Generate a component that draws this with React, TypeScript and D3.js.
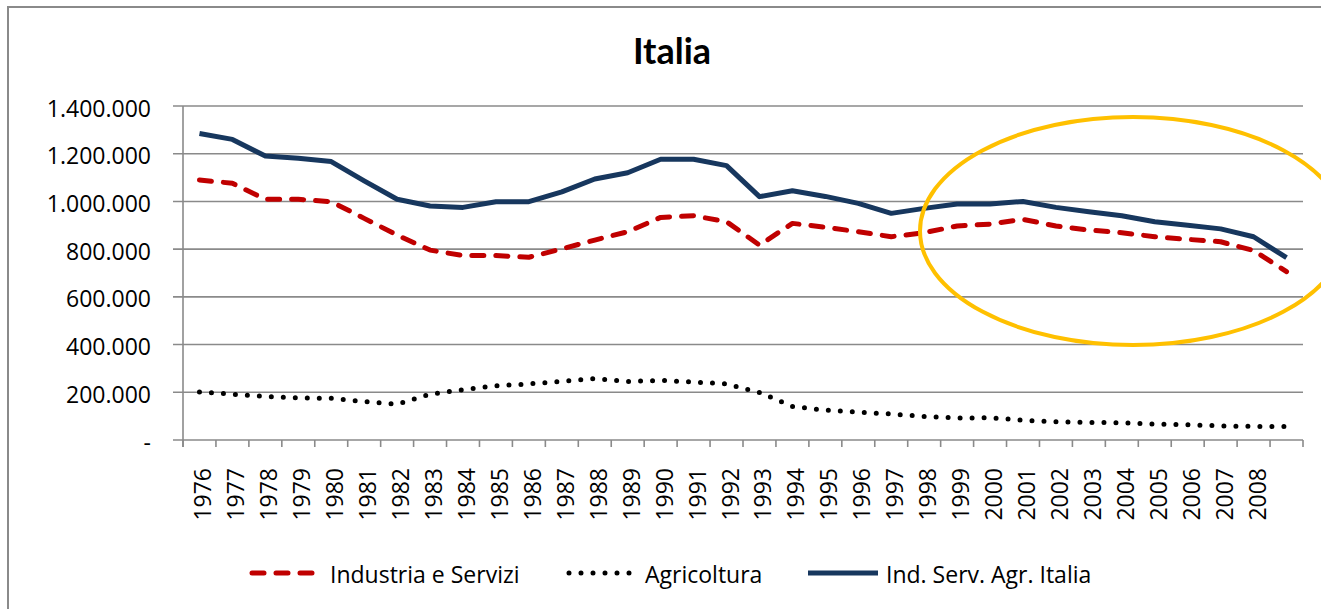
import React, { useEffect, useRef } from 'react';
import * as d3 from 'd3';

// categories (last one has no label in the original)
const years = [
  '1976', '1977', '1978', '1979', '1980', '1981', '1982', '1983', '1984', '1985', '1986',
  '1987', '1988', '1989', '1990', '1991', '1992', '1993', '1994', '1995', '1996', '1997',
  '1998', '1999', '2000', '2001', '2002', '2003', '2004', '2005', '2006', '2007', '2008', '',
];

const industriaServizi = [
  1090000, 1076000, 1009000, 1009000, 999000, 929000, 859000, 796000, 773000, 773000,
  766000, 801000, 838000, 873000, 933000, 940000, 915000, 817000, 908000, 892000,
  873000, 852000, 869000, 897000, 905000, 925000, 897000, 880000, 869000, 852000,
  841000, 831000, 794000, 706000,
];

const agricoltura = [
  201000, 192000, 183000, 176000, 175000, 161000, 150000, 192000, 211000, 227000,
  235000, 246000, 258000, 245000, 250000, 243000, 235000, 199000, 141000, 125000,
  117000, 109000, 99000, 92000, 93000, 83000, 76000, 74000, 72000, 67000,
  64000, 59000, 57000, 56000,
];

const totaleItalia = [
  1285000, 1260000, 1190000, 1181000, 1167000, 1086000, 1009000, 981000, 975000, 999000,
  999000, 1040000, 1094000, 1120000, 1177000, 1177000, 1150000, 1020000, 1045000, 1021000,
  992000, 950000, 971000, 989000, 989000, 1000000, 975000, 957000, 940000, 915000,
  900000, 885000, 852000, 764000,
];

const yTicks = [0, 200000, 400000, 600000, 800000, 1000000, 1200000, 1400000];

const FONT = "'Open Sans', Lato, sans-serif";
const TITLE_FONT = "Lato, 'Open Sans', sans-serif";
const GRID = '#8a8a8a';

const App = () => {
  const ref = useRef<SVGSVGElement>(null);

  useEffect(() => {
    const svg = d3.select(ref.current);
    svg.selectAll('*').remove();

    const left = 183,
      right = 1303,
      top = 106,
      bottom = 440;

    const x = d3.scaleBand<string>().domain(years).range([left, right]).padding(0);
    const y = d3.scaleLinear().domain([0, 1400000]).range([bottom, top]);
    const cx = (i: number) => (x(years[i]) ?? 0) + x.bandwidth() / 2;

    const it = d3.formatLocale({
      decimal: ',',
      thousands: '.',
      grouping: [3],
      currency: ['', ''],
    });
    const fmt = (v: number) => (v === 0 ? '-' : it.format(',')(v));

    // chart frame
    svg
      .append('rect')
      .attr('x', 8)
      .attr('y', 7)
      .attr('width', 1400)
      .attr('height', 700)
      .attr('fill', 'none')
      .attr('stroke', GRID)
      .attr('stroke-width', 2);

    // title
    svg
      .append('text')
      .attr('x', 672)
      .attr('y', 64)
      .attr('text-anchor', 'middle')
      .attr('font-family', TITLE_FONT)
      .attr('font-weight', 'bold')
      .attr('font-size', 36)
      .text('Italia');

    // gridlines + left tick marks
    svg
      .selectAll('line.grid')
      .data(yTicks)
      .enter()
      .append('line')
      .attr('x1', left - 10)
      .attr('x2', right)
      .attr('y1', (d) => y(d))
      .attr('y2', (d) => y(d))
      .attr('stroke', GRID)
      .attr('stroke-width', 1.6);

    // y axis line
    svg
      .append('line')
      .attr('x1', left)
      .attr('x2', left)
      .attr('y1', top)
      .attr('y2', bottom + 7)
      .attr('stroke', GRID)
      .attr('stroke-width', 1.6);

    // x tick marks at category boundaries
    const bounds = years.map((d) => x(d) ?? 0).concat([right]);
    svg
      .selectAll('line.xtick')
      .data(bounds)
      .enter()
      .append('line')
      .attr('x1', (d) => d)
      .attr('x2', (d) => d)
      .attr('y1', bottom)
      .attr('y2', bottom + 7)
      .attr('stroke', GRID)
      .attr('stroke-width', 1.6);

    // y labels
    svg
      .selectAll('text.ylab')
      .data(yTicks)
      .enter()
      .append('text')
      .attr('x', 151)
      .attr('y', (d) => y(d) + 10.5)
      .attr('text-anchor', 'end')
      .attr('font-family', FONT)
      .attr('font-size', 23)
      .attr('fill', '#000')
      .text((d) => fmt(d));

    // x labels (rotated)
    svg
      .selectAll('text.xlab')
      .data(years)
      .enter()
      .append('text')
      .attr('transform', (d, i) => 'translate(' + (cx(i) + 12) + ',468)rotate(-90)')
      .attr('text-anchor', 'end')
      .attr('font-family', FONT)
      .attr('font-size', 23)
      .attr('fill', '#000')
      .text((d) => d);

    const line = d3
      .line<number>()
      .x((d, i) => cx(i))
      .y((d) => y(d));

    // Industria e Servizi
    svg
      .append('path')
      .attr('d', line(industriaServizi))
      .attr('fill', 'none')
      .attr('stroke', '#C00000')
      .attr('stroke-width', 5)
      .attr('stroke-dasharray', '12 12')
      .attr('stroke-linecap', 'round')
      .attr('stroke-linejoin', 'round');

    // Agricoltura
    svg
      .append('path')
      .attr('d', line(agricoltura))
      .attr('fill', 'none')
      .attr('stroke', '#000')
      .attr('stroke-width', 5)
      .attr('stroke-dasharray', '0 12')
      .attr('stroke-linecap', 'round');

    // Ind. Serv. Agr. Italia
    svg
      .append('path')
      .attr('d', line(totaleItalia))
      .attr('fill', 'none')
      .attr('stroke', '#17375E')
      .attr('stroke-width', 5)
      .attr('stroke-linejoin', 'round');

    // legend
    const legY = 573;
    svg
      .append('line')
      .attr('x1', 252)
      .attr('x2', 316)
      .attr('y1', legY)
      .attr('y2', legY)
      .attr('stroke', '#C00000')
      .attr('stroke-width', 5)
      .attr('stroke-dasharray', '12 12')
      .attr('stroke-linecap', 'round');
    svg
      .append('line')
      .attr('x1', 569)
      .attr('x2', 630)
      .attr('y1', legY)
      .attr('y2', legY)
      .attr('stroke', '#000')
      .attr('stroke-width', 5)
      .attr('stroke-dasharray', '0 12')
      .attr('stroke-linecap', 'round');
    svg
      .append('line')
      .attr('x1', 808)
      .attr('x2', 878)
      .attr('y1', legY)
      .attr('y2', legY)
      .attr('stroke', '#17375E')
      .attr('stroke-width', 5);

    const legText = [
      { label: 'Industria e Servizi', x: 330 },
      { label: 'Agricoltura', x: 645 },
      { label: 'Ind. Serv. Agr. Italia', x: 886 },
    ];
    svg
      .selectAll('text.leg')
      .data(legText)
      .enter()
      .append('text')
      .attr('x', (d) => d.x)
      .attr('y', 583)
      .attr('font-family', FONT)
      .attr('font-size', 23)
      .attr('fill', '#000')
      .text((d) => d.label);

    // highlight ellipse
    svg
      .append('ellipse')
      .attr('cx', 1133)
      .attr('cy', 231)
      .attr('rx', 213)
      .attr('ry', 114)
      .attr('fill', 'none')
      .attr('stroke', '#FFC000')
      .attr('stroke-width', 4);
  }, []);

  return (
    <svg
      ref={ref}
      width={1321}
      height={609}
      style={{ position: 'fixed', left: 0, top: 0, background: '#fff' }}
    />
  );
};

export default App;
